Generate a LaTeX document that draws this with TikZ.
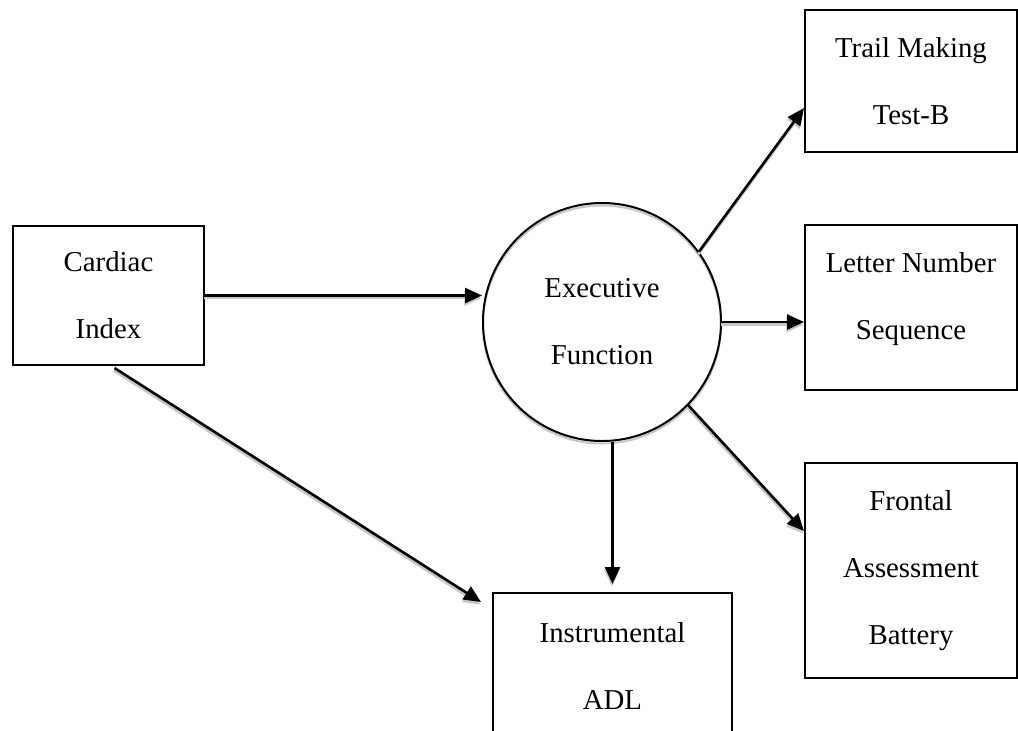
\documentclass[tikz,border=0pt]{standalone}
\usepackage{fontspec}
\setmainfont{Liberation Serif}
\usetikzlibrary{arrows.meta,calc}
\newcommand\myconn[2]{\draw[shd] #1 -- #2; \draw[arr] #1 -- #2;}
\begin{document}
\begin{tikzpicture}[x=0.5pt,y=-0.5pt,
  txt/.style={font=\fontsize{14.4}{33.5}\selectfont, align=center},
  box/.style={txt, draw, line width=1pt, rectangle, inner sep=0pt},
  circ/.style={txt, draw, circle, line width=1pt, minimum size=119pt, inner sep=0pt},
  arr/.style={line width=1.3pt, -{Triangle[length=8.5pt,width=7.5pt]}},
  shd/.style={arr, draw=black!22, fill=black!22, transform canvas={shift={(-0.3pt,-1.3pt)}}}
]
\useasboundingbox[fill=white] (0,0) rectangle (1018,730);
% circle shadow
\draw[black!22, line width=1pt] (602,324.5) circle (119);
\node[box, minimum width=95.5pt, minimum height=69.5pt] (ci) at (108.5,295.5) {Cardiac\\Index};
\node[circ] (ef) at (602,322) {Executive\\Function};
\node[box, minimum width=106pt, minimum height=71pt] (tm) at (911,81) {Trail Making\\Test-B};
\node[box, minimum width=106pt, minimum height=82.5pt, text depth=12pt] (ln) at (911,307.5) {Letter Number\\Sequence};
\node[box, minimum width=106pt, minimum height=107.5pt] (fb) at (911,570.5) {Frontal\\Assessment\\Battery};
\node[box, minimum width=119.5pt, minimum height=73.5pt] (ia) at (612.5,666.5) {Instrumental\\ADL};
\myconn{(ci.east)}{(ci.east -| ef.west)}
\myconn{($(ci.south)+(6,2)$)}{($(ia.north west)+(-11,10)$)}
\myconn{(ef.36)}{($(tm.west)+(0,27)$)}
\myconn{(ef.east)}{(ef.east -| ln.west)}
\myconn{(ef.-44)}{($(fb.north west)+(0,69)$)}
\myconn{(ef.south -| ia.north)}{($(ia.north)+(0,-8)$)}
\end{tikzpicture}
\end{document}
